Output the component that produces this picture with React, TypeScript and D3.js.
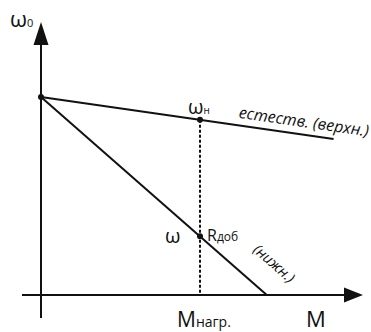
import React from "react";
import * as d3 from "d3";

// Mechanical characteristics ω(M) of an induction motor: natural and with added rotor resistance
const naturalM = [0, 1.84];
const naturalW = [1, 0.788];
const rheoM = [0, 1.42];
const rheoW = [1, 0];
const loadM = 1.0;
const pointLabels = ["ω0", "ωн", "ω"];
const pointM = [0, 1.0, 1.0];
const pointW = [1, 0.885, 0.297];

const W = 371;
const H = 332;

const x = d3.scaleLinear().domain([0, 1]).range([41, 200]);
const y = d3.scaleLinear().domain([0, 1]).range([295, 97]);

const FONT = "'Open Sans', 'DejaVu Sans', sans-serif";

export default function App() {
  const line = d3
    .line<[number, number]>()
    .x((d) => x(d[0]))
    .y((d) => y(d[1]));
  const natural = naturalM.map((m, i) => [m, naturalW[i]] as [number, number]);
  const rheo = rheoM.map((m, i) => [m, rheoW[i]] as [number, number]);

  const angNat =
    (Math.atan2(y(naturalW[1]) - y(naturalW[0]), x(naturalM[1]) - x(naturalM[0])) * 180) / Math.PI;
  const angRheo =
    (Math.atan2(y(rheoW[1]) - y(rheoW[0]), x(rheoM[1]) - x(rheoM[0])) * 180) / Math.PI;

  // axes geometry
  const x0 = x(0);
  const y0 = y(0);
  const yTop = 22;
  const xRight = 363;

  const loadX = x(loadM);
  const loadTopY = y(pointW[1]);

  return (
    <svg
      width={W}
      height={H}
      style={{ position: "absolute", left: 0, top: 0, background: "#fff" }}
      fontFamily={FONT}
    >
      {/* axes */}
      <line x1={x0} y1={318} x2={x0} y2={yTop + 18} stroke="#111" strokeWidth={2} />
      <polygon points={`${x0},${yTop} ${x0 - 7.5},${yTop + 23} ${x0 + 7.5},${yTop + 23}`} fill="#111" />
      <line x1={22} y1={y0} x2={xRight - 14} y2={y0} stroke="#111" strokeWidth={2} />
      <polygon points={`${xRight},${y0} ${xRight - 19},${y0 - 7.5} ${xRight - 19},${y0 + 7.5}`} fill="#111" />

      {/* characteristics */}
      <path d={line(natural) ?? ""} fill="none" stroke="#111" strokeWidth={2} />
      <path d={line(rheo) ?? ""} fill="none" stroke="#111" strokeWidth={2} />

      {/* load torque projection */}
      <line
        x1={loadX}
        y1={loadTopY}
        x2={loadX}
        y2={y0}
        stroke="#111"
        strokeWidth={2}
        strokeDasharray="3 2"
      />

      {/* operating points */}
      {pointM.map((m, i) => (
        <circle key={i} cx={x(m)} cy={y(pointW[i])} r={3} fill="#111" />
      ))}

      {/* labels */}
      <text x={10} y={27} fontSize={22} fill="#111">
        ω<tspan fontSize={11}>0</tspan>
      </text>
      <text x={loadX - 12} y={loadTopY - 6} fontSize={20} fill="#111">
        ω<tspan fontSize={10}>н</tspan>
      </text>
      <text x={loadX - 35} y={y(pointW[2]) + 7} fontSize={20} fill="#111">
        {pointLabels[2]}
      </text>
      <text x={loadX + 7} y={y(pointW[2]) + 5} fontSize={16} fill="#111">
        R<tspan fontSize={12}>доб</tspan>
      </text>

      <text
        transform={`translate(${x(1.24)},${y(0.86) - 7}) rotate(${angNat})`}
        fontSize={16}
        fontStyle="italic"
        fill="#111"
      >
        естеств. (верхн.)
      </text>
      <text
        transform={`translate(${x(1.42) + 4},${y(0.13) - 2}) rotate(${angRheo})`}
        fontSize={14.5}
        fontStyle="italic"
        textAnchor="middle"
        fill="#111"
      >
        (нижн.)
      </text>

      <text x={loadX - 23} y={327} fontSize={21} fill="#111">
        M<tspan fontSize={14}>нагр.</tspan>
      </text>
      <text x={306} y={327} fontSize={22} fill="#111">
        M
      </text>
    </svg>
  );
}
